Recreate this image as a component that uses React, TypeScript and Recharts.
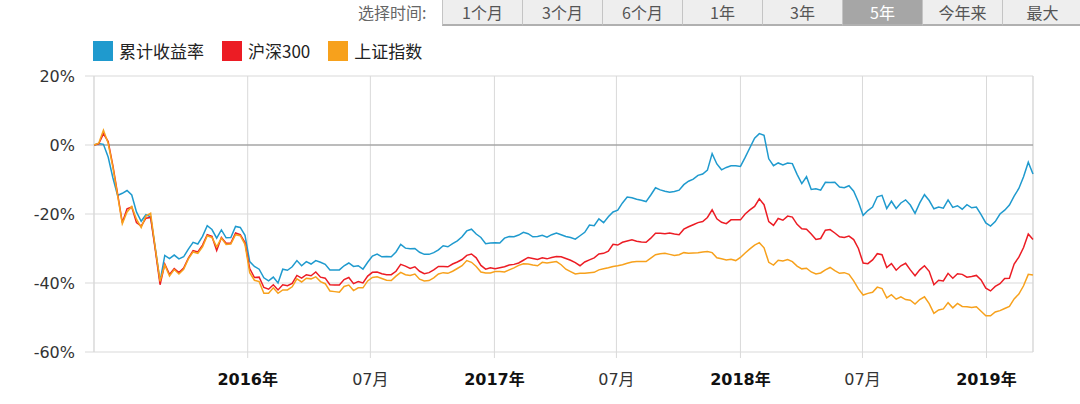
import { LineChart, Line, XAxis, YAxis, CartesianGrid, ReferenceLine } from 'recharts';

// weekly points, first one on 2015-05-18
const startDate = Date.UTC(2015, 4, 18);
const WEEK = 7 * 24 * 3600 * 1000;

// 累计收益率 (%)
const fundReturn = [
  0, 0.4, 0.2, -3.5, -9.5, -14.6, -14, -13.2, -14.5, -19.4,
  -22.1, -20.2, -20.8, -30, -39.5, -32, -32.9, -31.9, -33, -32.4,
  -30.2, -28.2, -28.7, -26.5, -23.4, -24.5, -27, -24.6, -26.9, -26.8,
  -23.6, -23.9, -26.2, -33.8, -35.2, -36, -38.5, -39.4, -38.3, -40,
  -36, -36.3, -35.3, -33.5, -35, -33.8, -34.5, -33.5, -34, -34.6,
  -36.2, -36.2, -36.2, -35, -34.2, -35.2, -35, -36, -34, -32.2,
  -31.6, -32.4, -32.3, -32.4, -31, -28.8, -29.9, -30.1, -30, -31.1,
  -31.7, -31.7, -31.2, -30.4, -29.2, -29.5, -28.6, -27.8, -26.6, -24.9,
  -24.4, -25.8, -26.8, -28.6, -28.4, -28.3, -28.4, -27, -26.5, -26.6,
  -26.1, -25.3, -25.7, -26.6, -26.5, -26.2, -26.7, -26, -25.5, -26,
  -26.5, -26.8, -27.3, -26.3, -25.3, -23.2, -23.4, -21.4, -22.5, -20.8,
  -19.4, -18.9, -16.8, -15.1, -15.3, -15.7, -16, -16.4, -14.5, -12.4,
  -13, -13.4, -13.7, -13.5, -13.1, -11.5, -10.5, -9.9, -8.8, -8.4,
  -7.3, -2.5, -5.5, -7.2, -6.5, -6, -6, -6.2, -3.6, -0.8,
  2, 3.3, 2.8, -4, -6, -5.2, -5.8, -5.2, -5.4, -8.5,
  -11.2, -9.2, -12.9, -12.7, -13.1, -10.8, -10.9, -10.8, -12.2, -12.4,
  -11.8, -13.4, -16.5, -20.4, -19, -18, -15, -14.6, -18.4, -16.3,
  -18.4, -16.8, -15.9, -17.4, -19.8, -16.8, -14.4, -16.1, -18.5, -18,
  -18.3, -15.9, -18.1, -17.6, -18.6, -17.3, -18.2, -18, -20.2, -22.6,
  -23.5, -22.2, -20, -18.9, -17.4, -14.8, -12.6, -9.2, -5, -8.4,
];

// 沪深300 (%)
const hs300 = [
  0, 0.3, 3.3, 1, -6, -14.2, -22.5, -18.5, -18, -22.5,
  -23.5, -21.2, -21, -30.5, -40.5, -34.5, -37.5, -35.8, -37, -35.7,
  -32.8, -30.6, -31, -29, -26, -26.5, -30.6, -26.8, -28.5, -28.4,
  -25.5, -26, -28.3, -35.8, -38.4, -38.3, -41.3, -41.8, -40.5, -42,
  -40.5, -40.8, -40.1, -37.8, -38.6, -37.6, -37.9, -36.8, -38.3, -38.6,
  -40.5, -40.6, -40.6, -39, -38.4, -40.2, -39.6, -40, -38, -36.9,
  -36.8, -37.3, -37.6, -37.6, -36.6, -34.6, -35.1, -35.8, -35.3, -36.6,
  -37.3, -37, -36.2, -35.2, -35.2, -35.3, -34.5, -33.9, -33.2, -32,
  -31.6, -32.7, -34.9, -36, -35.6, -35.9, -35.6, -35.3, -34.8, -34.6,
  -34.2, -33.4, -32.6, -32.9, -33.2, -32.7, -33, -32.6, -32.3, -32.4,
  -32.9, -33.4, -34.1, -35, -33.9, -33.3, -32.7, -31.6, -31.4, -30.8,
  -28.8, -29, -28.2, -27.8, -27.5, -27.9, -28.1, -28.2, -27, -25.6,
  -25.6, -25.7, -25.5, -25.8, -26, -24.4, -23.7, -23.1, -22.5, -22.2,
  -21, -18.8, -21.4, -22.4, -22.8, -21.7, -21.7, -21.7, -20, -18.8,
  -17.8, -15.6, -17.3, -22.2, -23.3, -21.3, -21.8, -20.6, -20.9, -23,
  -24.3, -24.4, -25.8, -27.4, -27.1, -24.7, -24.5, -25.5, -26.6, -26.8,
  -26.4, -27.4, -30, -34.2, -34.4, -33.3, -31.5, -31.8, -35.5, -34.4,
  -36.3, -35, -34.3, -36.2, -37.9, -36.2, -35, -36.6, -40.5, -39.2,
  -39.4, -37.2, -38.6, -37.3, -37.5, -38.3, -38.1, -37.8, -39.1, -41.5,
  -42.3, -41, -40.2, -38.7, -38.6, -34.5, -32.5, -29.7, -25.8, -27.4,
];

// 上证指数 (%)
const shIndex = [
  0, 0.5, 4.3, 0.5, -6.4, -14.5, -22.8, -19.4, -17.8, -21.5,
  -23.9, -20.6, -19.8, -30, -39.5, -34.8, -38, -36.1, -37.4, -36,
  -33, -31, -31.4, -29.5, -26.3, -26.8, -29.5, -27, -28.8, -28.7,
  -26, -26.3, -28.8, -37, -39.2, -39.6, -43, -43, -41.4, -43,
  -42, -42, -41.1, -38.8, -39.7, -38.6, -38.8, -38.2, -39.6, -40.2,
  -42.3, -42.5, -42.7, -41, -40.6, -42.2, -41.4, -41.4, -39.4, -38.4,
  -38.2, -38.7, -39.2, -39.3, -38, -36.9, -37.6, -37.8, -37.4, -38.9,
  -39.4, -39.3, -38.5, -37.4, -37, -37.2, -36.6, -35.8, -35, -33.5,
  -34, -35.2, -36.8, -37.1, -37.1, -36.7, -36.7, -36.8, -36.2, -35.6,
  -34.9, -34.4, -34.5, -34.8, -35, -34, -34.2, -34, -33.8, -34.7,
  -36, -36.7, -37.4, -37.2, -37.2, -37, -36.9, -36.2, -35.9, -35.6,
  -35.2, -35, -34.7, -34.3, -33.9, -33.8, -33.8, -33.8, -32.8, -31.8,
  -31.5, -31.4, -31.7, -32, -31.8, -31.2, -31.4, -31.3, -31.2, -31,
  -30.9, -31.2, -32.7, -33, -33.3, -33.1, -33.5, -32.6, -31.3, -30.1,
  -29, -28.3, -29.8, -34, -34.8, -33.4, -33.6, -33.2, -33.8, -35.1,
  -35.9, -35.7, -36.8, -37.4, -37.1, -36.2, -35.5, -36.4, -37.2, -37,
  -37.5, -39.4, -41.7, -43.5, -43, -42.7, -41.2, -41.6, -44.3, -43.4,
  -44.7, -44, -44.8, -45, -46.1, -44.8, -44, -46, -48.8, -47.8,
  -47.5, -45.7, -47.2, -45.9, -46.8, -46.9, -47.1, -46.9, -48.2, -49.5,
  -49.5, -48.4, -48, -47.4, -46.8, -44.6, -43.2, -40.8, -37.5, -37.7,
];

const yTicks = [-60, -40, -20, 0, 20];
const xTicks = [
  Date.UTC(2016, 0, 1), Date.UTC(2016, 6, 1), Date.UTC(2017, 0, 1), Date.UTC(2017, 6, 1),
  Date.UTC(2018, 0, 1), Date.UTC(2018, 6, 1), Date.UTC(2019, 0, 1),
];
const xTickLabels = ['2016年', '07月', '2017年', '07月', '2018年', '07月', '2019年'];

const periods = ['1个月', '3个月', '6个月', '1年', '3年', '5年', '今年来', '最大'];
const activePeriod = '5年';

const seriesInfo = [
  { key: 'fund', name: '累计收益率', color: '#1f9ace' },
  { key: 'hs300', name: '沪深300', color: '#ec1c24' },
  { key: 'sh', name: '上证指数', color: '#f7a11c' },
];

const data = fundReturn.map((v, i) => ({
  t: startDate + i * WEEK,
  fund: v,
  hs300: hs300[i],
  sh: shIndex[i],
}));

const CJK = '"Noto Sans CJK SC", "Noto Sans", sans-serif';
const AXIS_FONT = '"DejaVu Sans", "Noto Sans CJK SC", sans-serif';

const XTick = (props: any) => {
  const { x, y, payload } = props;
  const idx = xTicks.indexOf(payload.value);
  const label = xTickLabels[idx] ?? '';
  const isYear = label.endsWith('年');
  return (
    <text
      x={x}
      y={y}
      dy={17}
      textAnchor="middle"
      fontSize={16}
      fontWeight={isYear ? 'bold' : 'normal'}
      fill={isYear ? '#111' : '#333'}
      fontFamily={AXIS_FONT}
    >
      {label}
    </text>
  );
};

export default function App() {
  const first = data[0].t;
  const last = data[data.length - 1].t;
  return (
    <div style={{ position: 'absolute', left: 0, top: 0, width: 1080, height: 404, background: '#fff', overflow: 'hidden' }}>
      {/* period selector */}
      <div style={{ position: 'absolute', left: 358, top: 0, height: 24, lineHeight: '24px', fontFamily: CJK, fontSize: 16, color: '#666' }}>
        选择时间:
      </div>
      <div style={{ position: 'absolute', left: 442, top: -1, display: 'flex' }}>
        {periods.map((p) => (
          <div
            key={p}
            style={{
              width: 79,
              height: 24,
              lineHeight: '24px',
              textAlign: 'center',
              fontFamily: CJK,
              fontSize: 16,
              color: p === activePeriod ? '#fff' : '#555',
              background: p === activePeriod ? '#a6a6a6' : '#eeeeee',
              borderLeft: '1px solid #c4c4c4',
              borderTop: '1px solid #c4c4c4',
              borderBottom: '2px solid #b0b0b0',
            }}
          >
            {p}
          </div>
        ))}
      </div>

      {/* legend */}
      <div style={{ position: 'absolute', left: 93, top: 41, display: 'flex', alignItems: 'center', fontFamily: CJK, fontSize: 17, color: '#222' }}>
        {seriesInfo.map((s) => (
          <div key={s.key} style={{ display: 'flex', alignItems: 'center', marginRight: 18 }}>
            <span style={{ width: 20, height: 20, background: s.color, display: 'inline-block', marginRight: 6 }} />
            <span style={{ lineHeight: '20px' }}>{s.name}</span>
          </div>
        ))}
      </div>

      <div style={{ position: 'absolute', left: 0, top: 0 }}>
        <LineChart width={1080} height={404} data={data} margin={{ top: 76, right: 47, bottom: 0, left: 0 }}>
          <CartesianGrid stroke="#d9d9d9" strokeWidth={1} />
          <XAxis
            dataKey="t"
            type="number"
            domain={[first, last]}
            ticks={xTicks}
            height={52}
            axisLine={false}
            tickLine={{ stroke: '#d9d9d9' }}
            tickSize={6}
            tickMargin={10}
            tick={<XTick />}
            interval={0}
          />
          <YAxis
            type="number"
            domain={[-60, 20]}
            ticks={yTicks}
            width={94}
            axisLine={false}
            tickLine={{ stroke: '#d9d9d9' }}
            tickSize={9}
            tickMargin={10}
            tickFormatter={(v: number) => `${v}%`}
            tick={{ fontSize: 16, fill: '#333', fontFamily: AXIS_FONT }}
            interval={0}
          />
          <ReferenceLine x={first} stroke="#d9d9d9" />
          <ReferenceLine x={last} stroke="#d9d9d9" />
          <ReferenceLine y={0} stroke="#8c8c8c" strokeWidth={1.2} />
          {seriesInfo.map((s) => (
            <Line
              key={s.key}
              dataKey={s.key}
              name={s.name}
              stroke={s.color}
              strokeWidth={1.5}
              dot={false}
              type="linear"
              isAnimationActive={false}
            />
          ))}
        </LineChart>
      </div>
    </div>
  );
}
